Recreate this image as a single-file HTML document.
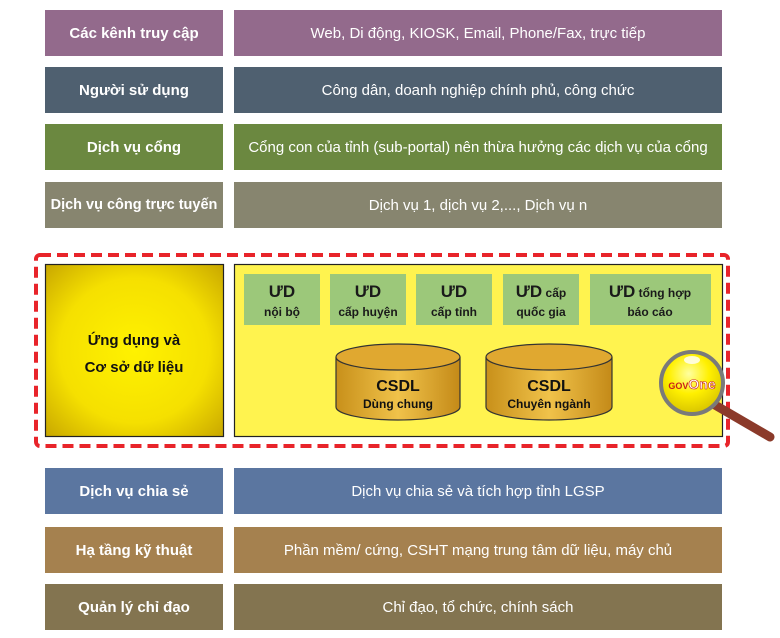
<!DOCTYPE html>
<html><head><meta charset="utf-8"><style>
body{margin:0;width:780px;height:638px;background:#fff;position:relative;overflow:hidden;font-family:"Liberation Sans","DejaVu Sans",sans-serif;}
.b{position:absolute;display:flex;align-items:center;justify-content:center;color:#fff;text-align:center;}
.l{left:45px;width:178px;font-weight:bold;font-size:15px;}
.r{left:234px;width:488px;font-size:15px;}
</style></head><body>
<div class="b l" style="top:10px;height:46px;background:#936A8C">Các kênh truy cập</div>
<div class="b r" style="top:10px;height:46px;background:#936A8C">Web, Di động, KIOSK, Email, Phone/Fax, trực tiếp</div>
<div class="b l" style="top:67px;height:46px;background:#4F6070">Người sử dụng</div>
<div class="b r" style="top:67px;height:46px;background:#4F6070">Công dân, doanh nghiệp chính phủ, công chức</div>
<div class="b l" style="top:124px;height:46px;background:#6B8840">Dịch vụ cổng</div>
<div class="b r" style="top:124px;height:46px;background:#6B8840">Cổng con của tỉnh (sub-portal) nên thừa hưởng các dịch vụ của cổng</div>
<div class="b l" style="top:182px;height:46px;background:#87856F;font-size:14.5px">Dịch vụ công trực tuyến</div>
<div class="b r" style="top:182px;height:46px;background:#87856F">Dịch vụ 1, dịch vụ 2,..., Dịch vụ n</div>

<div class="b l" style="top:468px;height:46px;background:#5B76A0">Dịch vụ chia sẻ</div>
<div class="b r" style="top:468px;height:46px;background:#5B76A0">Dịch vụ chia sẻ và tích hợp tỉnh LGSP</div>
<div class="b l" style="top:527px;height:46px;background:#A5814F">Hạ tầng kỹ thuật</div>
<div class="b r" style="top:527px;height:46px;background:#A5814F">Phần mềm/ cứng, CSHT mạng trung tâm dữ liệu, máy chủ</div>
<div class="b l" style="top:584px;height:46px;background:#837450">Quản lý chỉ đạo</div>
<div class="b r" style="top:584px;height:46px;background:#837450">Chỉ đạo, tổ chức, chính sách</div>

<svg width="780" height="638" style="position:absolute;left:0;top:0" font-family="Liberation Sans, DejaVu Sans, sans-serif">
<defs>
<radialGradient id="yg" cx="50%" cy="50%" r="70%"><stop offset="0" stop-color="#FFF200"/><stop offset="0.6" stop-color="#F5E000"/><stop offset="1" stop-color="#C9A800"/></radialGradient>
<linearGradient id="cg" x1="0" x2="1"><stop offset="0" stop-color="#C8901A"/><stop offset="0.5" stop-color="#F0C24A"/><stop offset="1" stop-color="#C48A18"/></linearGradient>
<radialGradient id="mg" cx="45%" cy="35%" r="65%"><stop offset="0" stop-color="#FFFFA0"/><stop offset="0.5" stop-color="#FFF000"/><stop offset="1" stop-color="#D8C400"/></radialGradient>
</defs>
<rect x="36" y="255" width="692" height="191" rx="4" fill="none" stroke="#E8242A" stroke-width="4" stroke-dasharray="11,6"/>
<rect x="45.5" y="264.5" width="178" height="172" fill="url(#yg)" stroke="#222" stroke-width="1.2"/>
<text x="134" y="345" text-anchor="middle" font-size="15" font-weight="bold" fill="#111">Ứng dụng và</text>
<text x="134" y="372" text-anchor="middle" font-size="15" font-weight="bold" fill="#111">Cơ sở dữ liệu</text>
<rect x="234.5" y="264.5" width="488" height="172" fill="#FFF34F" stroke="#222" stroke-width="1.2"/>
<g font-weight="bold" fill="#1a1a1a" text-anchor="middle">
<rect x="244" y="274" width="76" height="51" fill="#9CC87A"/>
<text x="282" y="297" font-size="17">ƯD</text><text x="282" y="316" font-size="12">nội bộ</text>
<rect x="330" y="274" width="76" height="51" fill="#9CC87A"/>
<text x="368" y="297" font-size="17">ƯD</text><text x="368" y="316" font-size="12">cấp huyện</text>
<rect x="416" y="274" width="76" height="51" fill="#9CC87A"/>
<text x="454" y="297" font-size="17">ƯD</text><text x="454" y="316" font-size="12">cấp tỉnh</text>
<rect x="503" y="274" width="76" height="51" fill="#9CC87A"/>
<text x="541" y="297" font-size="12"><tspan font-size="17">ƯD</tspan> cấp</text><text x="541" y="316" font-size="12">quốc gia</text>
<rect x="590" y="274" width="121" height="51" fill="#9CC87A"/>
<text x="650" y="297" font-size="12"><tspan font-size="17">ƯD</tspan> tổng hợp</text><text x="650" y="316" font-size="12">báo cáo</text>
</g>
<g stroke="#333" stroke-width="1.2">
<path d="M336 357 v50 a62 13 0 0 0 124 0 v-50" fill="url(#cg)"/>
<ellipse cx="398" cy="357" rx="62" ry="13" fill="#E0A830"/>
<path d="M486 357 v50 a63 13 0 0 0 126 0 v-50" fill="url(#cg)"/>
<ellipse cx="549" cy="357" rx="63" ry="13" fill="#E0A830"/>
</g>
<g font-weight="bold" fill="#111" text-anchor="middle">
<text x="398" y="391" font-size="16">CSDL</text><text x="398" y="408" font-size="12">Dùng chung</text>
<text x="549" y="391" font-size="16">CSDL</text><text x="549" y="408" font-size="12">Chuyên ngành</text>
</g>
<line x1="715" y1="405" x2="770" y2="437" stroke="#8B3A2A" stroke-width="9" stroke-linecap="round"/>
<circle cx="692" cy="383" r="31" fill="url(#mg)" stroke="#7a7a7a" stroke-width="4"/>
<ellipse cx="692" cy="360" rx="8" ry="4" fill="#fff" opacity="0.8"/>
<text x="692" y="389" text-anchor="middle" font-size="9" font-weight="bold" fill="#C8201A">GOV<tspan font-size="14" fill="#fff" stroke="#C8201A" stroke-width="0.6">One</tspan></text>
</svg>
</body></html>
